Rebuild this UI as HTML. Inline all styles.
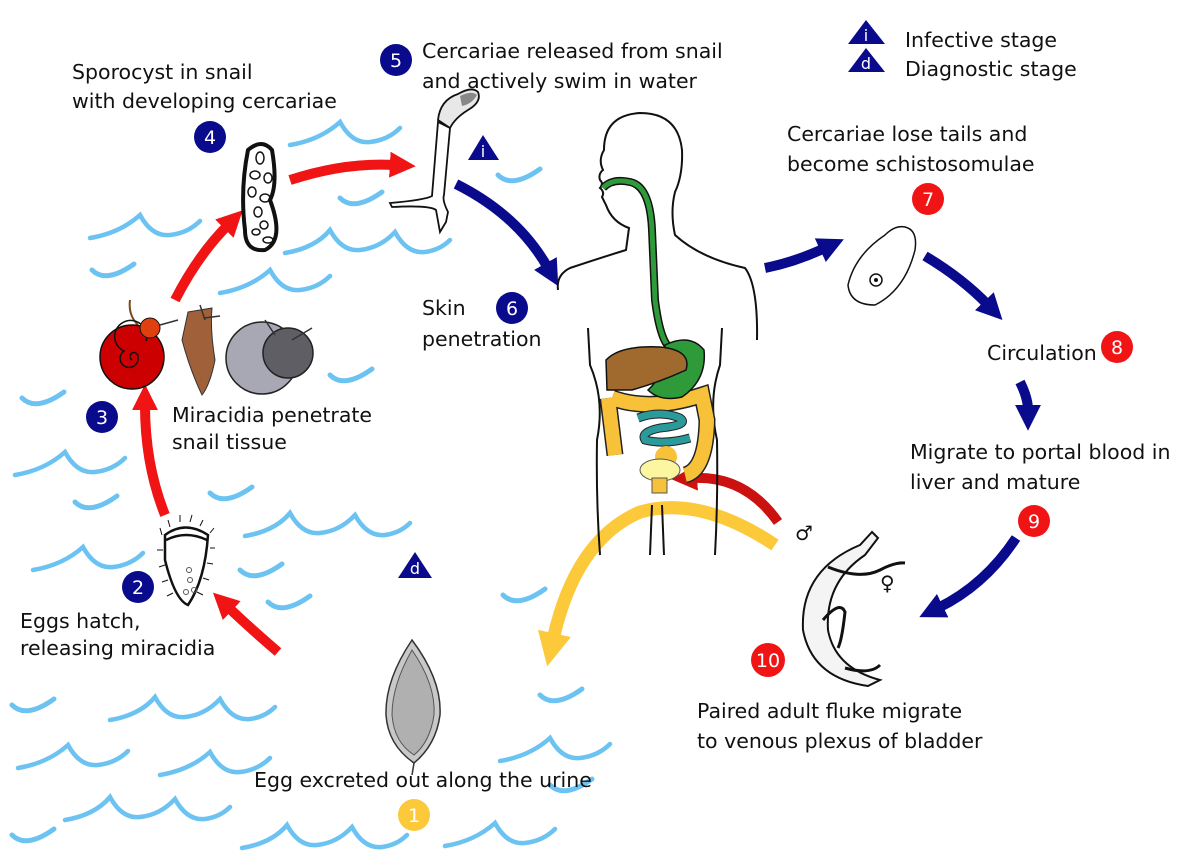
<!DOCTYPE html>
<html><head><meta charset="utf-8"><style>
html,body{margin:0;padding:0;background:#fff;}
svg{display:block;}
text{font-family:"DejaVu Sans","Liberation Sans",sans-serif;font-size:20.5px;fill:#111;}
.n{fill:#fff;font-size:19px;text-anchor:middle;}
</style></head><body>
<svg width="1200" height="854" viewBox="0 0 1200 854" xmlns="http://www.w3.org/2000/svg">
<defs>
<path id="w1" d="M0,25 Q30,20 50,2 Q62,24 80,22 Q98,20 110,8" fill="none" stroke="#6cc3f2" stroke-width="4.5" stroke-linecap="round"/>
<path id="w2" d="M0,25 Q30,20 45,2 Q57,24 75,22 Q95,20 110,4 Q122,26 140,24 Q155,22 165,12" fill="none" stroke="#6cc3f2" stroke-width="4.5" stroke-linecap="round"/>
<path id="wc" d="M0,0 Q14,14 42,-6" fill="none" stroke="#6cc3f2" stroke-width="5" stroke-linecap="round"/>
<marker id="mr" viewBox="0 0 10 10" refX="2" refY="5" markerWidth="2.6" markerHeight="2.6" orient="auto"><path d="M0,0 L10,5 L0,10 z" fill="#f01414"/></marker>
<marker id="mdr" viewBox="0 0 10 10" refX="2" refY="5" markerWidth="2.6" markerHeight="2.6" orient="auto"><path d="M0,0 L10,5 L0,10 z" fill="#cc1111"/></marker>
<marker id="mb" viewBox="0 0 10 10" refX="2" refY="5" markerWidth="2.6" markerHeight="2.6" orient="auto"><path d="M0,0 L10,5 L0,10 z" fill="#0a0a8c"/></marker>
<marker id="my" viewBox="0 0 10 10" refX="2" refY="5" markerWidth="2.6" markerHeight="2.6" orient="auto"><path d="M0,0 L10,5 L0,10 z" fill="#fcc93a"/></marker>
</defs>

<!-- waves -->
<use href="#w1" x="290" y="120"/>
<use href="#wc" x="340" y="198"/>
<use href="#wc" x="498" y="175"/>
<use href="#w1" x="90" y="213"/>
<use href="#w2" x="285" y="228"/>
<use href="#wc" x="92" y="270"/>
<use href="#w1" x="220" y="268"/>
<use href="#wc" x="330" y="375"/>
<use href="#wc" x="22" y="398"/>
<use href="#w1" x="15" y="450"/>
<use href="#wc" x="75" y="502"/>
<use href="#wc" x="210" y="493"/>
<use href="#w2" x="245" y="511"/>
<use href="#w1" x="33" y="545"/>
<use href="#wc" x="240" y="570"/>
<use href="#wc" x="268" y="602"/>
<use href="#wc" x="503" y="595"/>
<use href="#wc" x="12" y="705"/>
<use href="#w2" x="110" y="695"/>
<use href="#w1" x="18" y="743"/>
<use href="#w1" x="160" y="750"/>
<use href="#w2" x="65" y="795"/>
<use href="#wc" x="12" y="835"/>
<use href="#w2" x="242" y="823"/>
<use href="#w1" x="445" y="821"/>
<use href="#wc" x="540" y="695"/>
<use href="#w1" x="500" y="736"/>
<use href="#wc" x="550" y="785"/>

<!-- arrows -->
<g fill="none" stroke-width="10">
<path d="M290,180 Q345,162 395,165" stroke="#f01414" marker-end="url(#mr)"/>
<path d="M175,300 Q198,255 228,225" stroke="#f01414" marker-end="url(#mr)"/>
<path d="M165,515 Q145,465 145,405" stroke="#f01414" marker-end="url(#mr)"/>
<path d="M278,652 Q250,628 228,607" stroke="#f01414" marker-end="url(#mr)"/>
<path d="M778,522 Q745,475 692,478" stroke="#cc1111" marker-end="url(#mdr)"/>
<path d="M456,184 Q518,215 548,268" stroke="#0a0a8c" marker-end="url(#mb)"/>
<path d="M765,268 Q795,262 825,248" stroke="#0a0a8c" marker-end="url(#mb)"/>
<path d="M925,256 Q962,278 988,305" stroke="#0a0a8c" marker-end="url(#mb)"/>
<path d="M1020,382 Q1028,398 1028,410" stroke="#0a0a8c" marker-end="url(#mb)"/>
<path d="M1016,538 Q985,585 938,608" stroke="#0a0a8c" marker-end="url(#mb)"/>
<path d="M775,545 Q700,495 640,512 Q575,540 553,640" stroke="#fcc93a" stroke-width="13" marker-end="url(#my)"/>
</g>

<!-- human -->
<g fill="none" stroke="#111" stroke-width="2">
<path d="M558,290 Q556,275 570,268 Q600,258 626,250 L629,228 Q612,222 606,205 L602,197 Q605,192 600,188 Q604,184 600,180 Q598,174 603,170 Q598,160 604,150 Q604,115 640,113 Q678,113 682,150 Q683,175 675,192 Q670,212 675,235 Q700,258 745,268 Q758,285 757,340"/>
<path d="M588,328 L590,365 Q605,400 597,440 Q596,500 600,555"/>
<path d="M722,328 L720,365 Q708,400 717,440 Q718,500 715,555"/>
<path d="M652,505 L650,555 M662,505 L664,555"/>
</g>
<path d="M603,188 Q612,178 630,182 Q650,186 652,230 L655,300 Q660,340 670,348" fill="none" stroke="#111" stroke-width="8"/>
<path d="M603,188 Q612,178 630,182 Q650,186 652,230 L655,300 Q660,340 670,348" fill="none" stroke="#2e9a3a" stroke-width="5"/>
<path d="M608,398 L615,455 M612,398 Q650,412 702,395 L707,420 Q706,470 685,475" fill="none" stroke="#222" stroke-width="17"/>
<path d="M608,398 L615,455 M612,398 Q650,412 702,395 L707,420 Q706,470 685,475" fill="none" stroke="#f7c23a" stroke-width="14"/>
<path d="M665,345 Q690,333 704,350 Q707,380 682,397 Q660,402 648,390 Q665,375 665,345 Z" fill="#2e9a3a" stroke="#111" stroke-width="1.5"/>
<path d="M606,360 Q620,345 660,347 Q692,350 686,370 Q660,382 632,390 L607,390 Z" fill="#a0692e" stroke="#111" stroke-width="1.5"/>
<path d="M638,418 Q660,410 680,418 Q690,425 660,428 Q640,432 645,440 Q665,445 690,438" fill="none" stroke="#222" stroke-width="9"/>
<path d="M638,418 Q660,410 680,418 Q690,425 660,428 Q640,432 645,440 Q665,445 690,438" fill="none" stroke="#2a9a9a" stroke-width="7"/>
<circle cx="666" cy="457" r="11" fill="#f7c23a"/>
<ellipse cx="660" cy="470" rx="20" ry="11" fill="#fdf6a0" stroke="#555" stroke-width="1"/>
<rect x="652" y="478" width="15" height="15" fill="#f7c23a" stroke="#555" stroke-width="1"/>

<!-- sporocyst -->
<path d="M248,150 Q262,138 272,150 Q278,185 270,200 Q285,240 265,250 Q245,252 245,230 Q240,190 248,150 Z" fill="#fff" stroke="#111" stroke-width="4"/>
<g fill="none" stroke="#111" stroke-width="1.5">
<ellipse cx="260" cy="158" rx="4" ry="6"/><ellipse cx="255" cy="175" rx="5" ry="4"/><ellipse cx="268" cy="178" rx="4" ry="5"/>
<ellipse cx="252" cy="192" rx="4" ry="5"/><ellipse cx="265" cy="198" rx="5" ry="4"/><ellipse cx="258" cy="212" rx="4" ry="5"/>
<ellipse cx="264" cy="225" rx="4" ry="4"/><ellipse cx="256" cy="232" rx="4" ry="3"/><ellipse cx="268" cy="240" rx="5" ry="3"/>
</g>
<!-- cercaria -->
<path d="M438,120 Q440,100 458,94 Q472,86 478,92 Q482,102 468,110 Q455,118 450,128 Z" fill="#e8e8e8" stroke="#111" stroke-width="1.8"/>
<path d="M460,96 Q472,90 477,95 Q472,104 462,106 Z" fill="#888"/>
<path d="M438,122 L450,128 L444,195 Q442,200 448,212 L446,222 L440,232 L436,210 Q430,205 392,207 L390,203 Q425,200 432,196 Z" fill="#fff" stroke="#111" stroke-width="1.8"/>
<!-- i triangle -->
<path d="M468,160 L483,135 L499,160 Z" fill="#0a0a8c"/><text x="483" y="157" class="n" style="font-size:16px">i</text>

<!-- snails -->
<path d="M130,300 Q128,315 138,325" stroke="#7a4a1a" stroke-width="2" fill="none"/>
<path d="M160,325 L178,320" stroke="#333" stroke-width="1.5"/>
<circle cx="132" cy="357" r="32" fill="#cc0000" stroke="#111" stroke-width="1.5"/>
<path d="M132,360 a4,4 0 1 1 6,-3 a9,9 0 1 1 -14,-6 a16,16 0 1 1 22,-10" fill="none" stroke="#111" stroke-width="1.5"/>
<circle cx="150" cy="328" r="10" fill="#e04010" stroke="#111" stroke-width="1"/>
<path d="M188,312 L212,308 Q210,330 215,360 Q210,385 202,395 Q190,370 182,340 Z" fill="#a0603a" stroke="#333" stroke-width="1"/>
<path d="M200,305 L205,320 M204,318 L220,316" stroke="#333" stroke-width="1.5"/>
<circle cx="262" cy="358" r="36" fill="#a8a8b4" stroke="#222" stroke-width="1.5"/>
<circle cx="288" cy="353" r="25" fill="#5e5e64" stroke="#222" stroke-width="1.5"/>
<path d="M275,335 L265,320 M292,340 L312,328" stroke="#333" stroke-width="1.5"/>

<!-- miracidium -->
<path d="M165,535 Q185,520 208,535 Q205,580 188,605 Q175,600 165,560 Z" fill="#fff" stroke="#111" stroke-width="2.5"/>
<path d="M162,535 L160,528 M170,527 L168,520 M180,522 L180,515 M190,522 L192,515 M200,526 L203,520 M210,533 L214,528 M163,550 L157,550 M165,565 L159,567 M168,580 L162,582 M173,593 L167,596 M210,548 L215,548 M207,563 L213,564 M203,578 L209,580 M197,592 L203,595" stroke="#111" stroke-width="1"/>
<path d="M166,540 Q186,530 207,540" fill="none" stroke="#111" stroke-width="2.5"/>
<g fill="none" stroke="#555" stroke-width="1"><circle cx="189" cy="570" r="2.5"/><circle cx="190" cy="580" r="2.5"/><circle cx="186" cy="592" r="2.5"/><circle cx="194" cy="590" r="2.5"/></g>

<!-- egg -->
<path d="M412,640 Q442,680 440,715 Q436,745 414,763 Q388,745 386,715 Q385,680 412,640 Z" fill="#c8c8c8" stroke="#333" stroke-width="1.5"/>
<path d="M412,650 Q436,685 434,715 Q430,742 414,755 Q394,742 392,715 Q392,685 412,650 Z" fill="#b0b0b0" stroke="#555" stroke-width="1"/>
<path d="M414,763 L412,775" stroke="#333" stroke-width="1.5"/>
<path d="M398,578 L415,552 L432,578 Z" fill="#0a0a8c"/><text x="415" y="574" class="n" style="font-size:16px">d</text>

<!-- schistosomulum -->
<path d="M905,227 Q918,230 915,250 Q905,290 875,305 Q850,305 848,285 Q855,255 885,235 Q895,225 905,227 Z" fill="#fff" stroke="#111" stroke-width="1.5"/>
<circle cx="876" cy="280" r="6" fill="#fff" stroke="#111" stroke-width="1.5"/><circle cx="876" cy="280" r="2" fill="#111"/>

<!-- fluke -->
<path d="M872,532 L860,545 Q800,570 803,630 Q812,678 868,686 L880,680 Q835,668 828,630 Q825,582 865,555 L878,538 Z" fill="#f4f4f4" stroke="#111" stroke-width="2"/>
<path d="M828,567 Q860,580 880,570 Q895,562 905,563 M823,620 Q840,600 845,612 Q842,640 838,648 M845,668 Q870,675 880,665" fill="none" stroke="#111" stroke-width="3"/>
<text x="795" y="540" style="font-size:20px">♂</text><text x="880" y="590" style="font-size:20px">♀</text>

<!-- legend -->
<path d="M848,44 L866,20 L885,44 Z" fill="#0a0a8c"/><text x="866" y="41" class="n" style="font-size:16px">i</text>
<path d="M848,72 L866,48 L885,72 Z" fill="#0a0a8c"/><text x="866" y="69" class="n" style="font-size:16px">d</text>
<text x="905" y="47">Infective stage</text>
<text x="905" y="76">Diagnostic stage</text>

<!-- labels -->
<text x="72" y="79">Sporocyst in snail</text>
<text x="72" y="108">with developing cercariae</text>
<text x="422" y="58">Cercariae released from snail</text>
<text x="422" y="88">and actively swim in water</text>
<text x="787" y="141">Cercariae lose tails and</text>
<text x="787" y="171">become schistosomulae</text>
<text x="422" y="315">Skin</text>
<text x="422" y="346">penetration</text>
<text x="987" y="360">Circulation</text>
<text x="910" y="459">Migrate to portal blood in</text>
<text x="910" y="489">liver and mature</text>
<text x="172" y="422">Miracidia penetrate</text>
<text x="172" y="449">snail tissue</text>
<text x="20" y="628">Eggs hatch,</text>
<text x="20" y="655">releasing miracidia</text>
<text x="697" y="718">Paired adult fluke migrate</text>
<text x="697" y="748">to venous plexus of bladder</text>
<text x="254" y="787">Egg excreted out along the urine</text>

<!-- number circles -->
<g>
<circle cx="210" cy="137" r="16" fill="#0a0a8c"/><text x="210" y="144" class="n">4</text>
<circle cx="396" cy="60" r="16" fill="#0a0a8c"/><text x="396" y="67" class="n">5</text>
<circle cx="512" cy="308" r="16" fill="#0a0a8c"/><text x="512" y="315" class="n">6</text>
<circle cx="102" cy="417" r="16" fill="#0a0a8c"/><text x="102" y="424" class="n">3</text>
<circle cx="138" cy="587" r="16" fill="#0a0a8c"/><text x="138" y="594" class="n">2</text>
<circle cx="928" cy="199" r="16" fill="#f01414"/><text x="928" y="206" class="n">7</text>
<circle cx="1117" cy="347" r="16" fill="#f01414"/><text x="1117" y="354" class="n">8</text>
<circle cx="1034" cy="521" r="16" fill="#f01414"/><text x="1034" y="528" class="n">9</text>
<circle cx="768" cy="660" r="17" fill="#f01414"/><text x="768" y="667" class="n">10</text>
<circle cx="414" cy="815" r="16" fill="#fcc93a"/><text x="414" y="822" class="n">1</text>
</g>
</svg>
</body></html>
